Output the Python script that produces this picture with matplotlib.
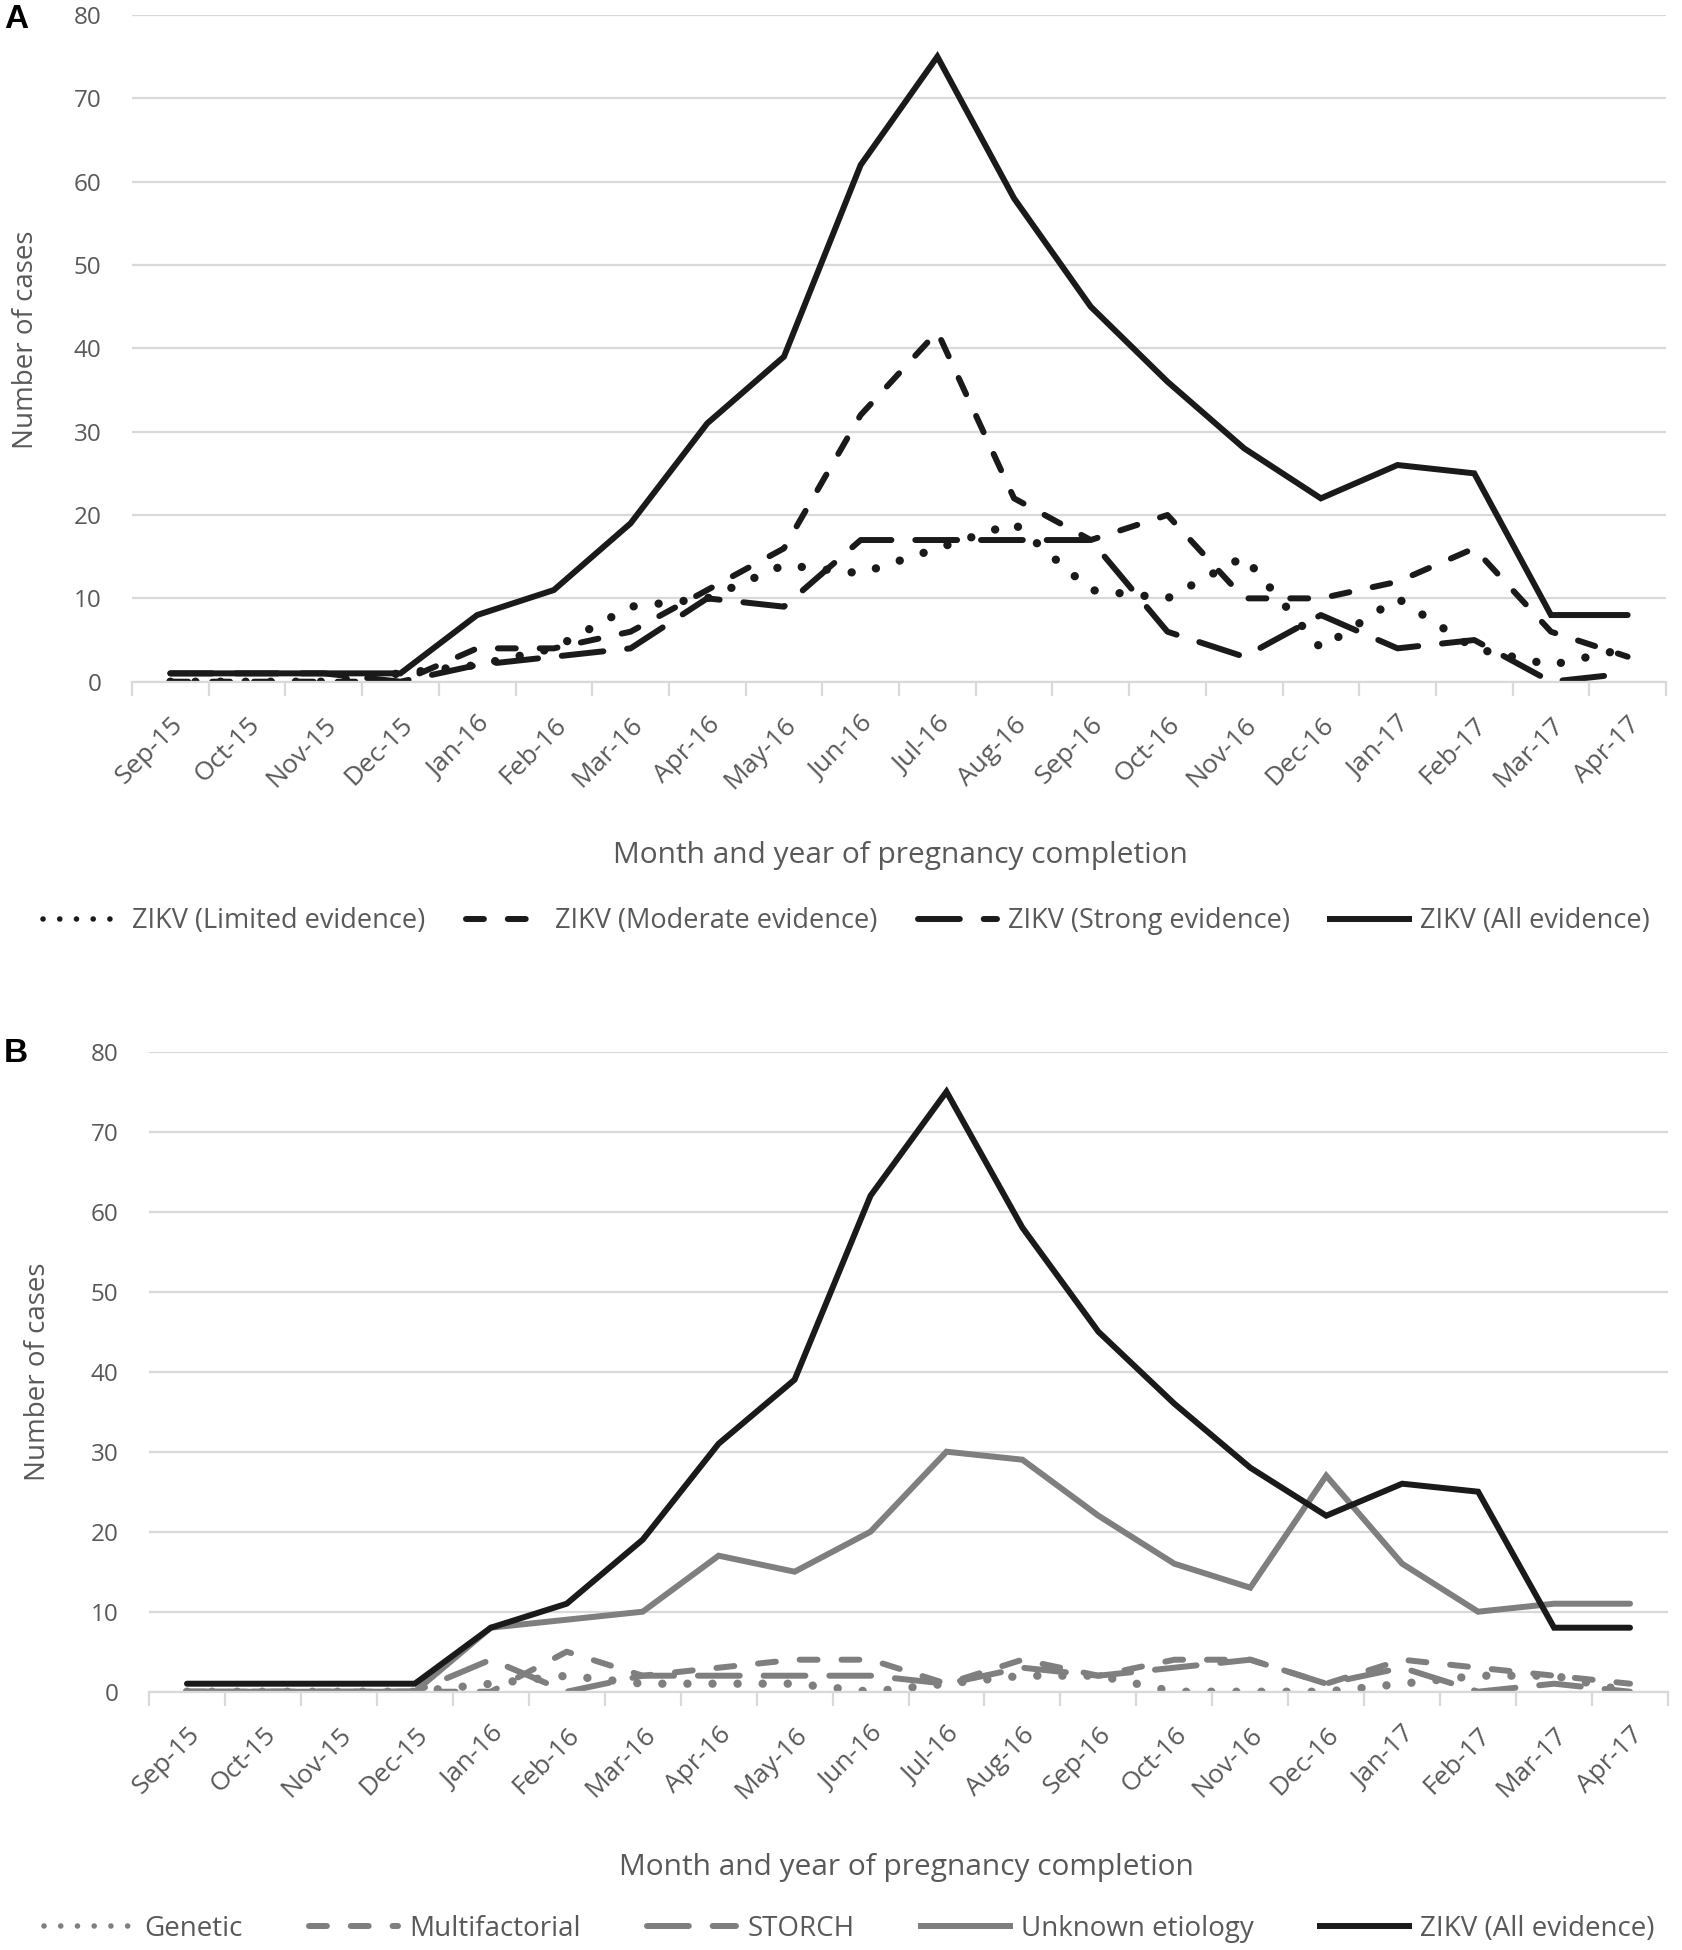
import numpy as np
import matplotlib
matplotlib.use("Agg")
import matplotlib.pyplot as plt
from matplotlib.lines import Line2D

# Monat der Schwangerschaftsbeendigung
months = ["Sep-15", "Oct-15", "Nov-15", "Dec-15", "Jan-16", "Feb-16", "Mar-16",
          "Apr-16", "May-16", "Jun-16", "Jul-16", "Aug-16", "Sep-16", "Oct-16",
          "Nov-16", "Dec-16", "Jan-17", "Feb-17", "Mar-17", "Apr-17"]

# Panel A
zikv_limited = [0, 0, 0, 1, 2, 4, 9, 10, 14, 13, 16, 19, 11, 10, 15, 4, 10, 4, 2, 4]
zikv_moderate = [0, 0, 0, 0, 4, 4, 6, 11, 16, 32, 42, 22, 17, 20, 10, 10, 12, 16, 6, 3]
zikv_strong = [1, 1, 1, 0, 2, 3, 4, 10, 9, 17, 17, 17, 17, 6, 3, 8, 4, 5, 0, 1]
zikv_all = [1, 1, 1, 1, 8, 11, 19, 31, 39, 62, 75, 58, 45, 36, 28, 22, 26, 25, 8, 8]

# Panel B
genetic = [0, 0, 0, 0, 1, 2, 1, 1, 1, 0, 1, 2, 2, 0, 0, 0, 1, 2, 2, 0]
multifactorial = [0, 0, 0, 0, 0, 5, 2, 3, 4, 4, 1, 4, 2, 4, 4, 1, 4, 3, 2, 1]
storch = [0, 0, 0, 0, 4, 0, 2, 2, 2, 2, 1, 3, 2, 3, 4, 1, 3, 0, 1, 0]
unknown = [0, 0, 0, 0, 8, 9, 10, 17, 15, 20, 30, 29, 22, 16, 13, 27, 16, 10, 11, 11]

plt.rcParams['font.family'] = ['Open Sans', 'DejaVu Sans']

BLACK = "#1a1a1a"
GREY = "#7f7f7f"
TXT = "#595959"
GRID = "#d9d9d9"
LW = 4.3
DOT_LW = 6.0
DOT = (0, (0.01, 3.0))
DASH = (0, (3, 4))
LONG = (0, (7, 4))

x = np.arange(len(months))

fig = plt.figure(figsize=(16.82, 19.5), dpi=100)
axA = fig.add_axes([132 / 1682, 1 - 681.7 / 1950, (1666 - 132) / 1682, (681.7 - 15) / 1950])
axB = fig.add_axes([149 / 1682, 1 - 1691.7 / 1950, (1668 - 149) / 1682, (1691.7 - 1051.7) / 1950])


def style(ax):
    ax.set_xlim(-0.5, len(months) - 0.5)
    ax.set_ylim(0, 80)
    ax.set_yticks(range(0, 81, 10))
    ax.yaxis.grid(True, color=GRID, lw=1.6)
    ax.set_axisbelow(True)
    for s in ["top", "right", "left"]:
        ax.spines[s].set_visible(False)
    ax.spines["bottom"].set_color(GRID)
    ax.spines["bottom"].set_linewidth(1.6)
    ax.set_xticks(x)
    ax.set_xticklabels(months, rotation=45, ha="right", rotation_mode="anchor")
    ax.set_xticks(np.arange(-0.5, len(months)), minor=True)
    ax.tick_params(axis="x", which="major", length=0, pad=22, labelsize=19, labelcolor=TXT)
    ax.tick_params(axis="x", which="minor", length=10, width=1.6, color=GRID)
    ax.tick_params(axis="y", length=0, pad=22, labelsize=17.5, labelcolor=TXT)


def draw(ax, y, color, ls):
    lw = DOT_LW if ls == DOT else LW
    ax.plot(x, y, color=color, lw=lw, linestyle=ls, dash_capstyle="round",
            solid_capstyle="round", solid_joinstyle="miter")


# Panel A
draw(axA, zikv_limited, BLACK, DOT)
draw(axA, zikv_moderate, BLACK, DASH)
draw(axA, zikv_strong, BLACK, LONG)
draw(axA, zikv_all, BLACK, "-")
style(axA)

# Panel B
draw(axB, genetic, GREY, DOT)
draw(axB, multifactorial, GREY, DASH)
draw(axB, storch, GREY, LONG)
draw(axB, unknown, GREY, "-")
draw(axB, zikv_all, BLACK, "-")
style(axB)

fig.text(16 / 1682, 1 - 20 / 1950, "A", fontsize=24, fontweight="bold", color="black",
         family="Liberation Sans", ha="center", va="center")
fig.text(16 / 1682, 1 - 1053 / 1950, "B", fontsize=24, fontweight="bold", color="black",
         family="Liberation Sans", ha="center", va="center")

fig.text(26 / 1682, 1 - 340 / 1950, "Number of cases", rotation=90, fontsize=20,
         color=TXT, ha="center", va="center")
fig.text(38 / 1682, 1 - 1372 / 1950, "Number of cases", rotation=90, fontsize=20,
         color=TXT, ha="center", va="center")
fig.text(900 / 1682, 1 - 856 / 1950, "Month and year of pregnancy completion",
         fontsize=21.5, color=TXT, ha="center", va="center")
fig.text(906 / 1682, 1 - 1867 / 1950, "Month and year of pregnancy completion",
         fontsize=21.5, color=TXT, ha="center", va="center")


def handle(color, ls):
    lw = 4.0 if ls == DOT else LW
    return Line2D([0], [0], color=color, lw=lw, linestyle=ls, dash_capstyle="round")


legA = fig.legend([handle(BLACK, DOT), handle(BLACK, DASH), handle(BLACK, LONG), handle(BLACK, "-")],
                  ["ZIKV (Limited evidence)", "ZIKV (Moderate evidence)",
                   "ZIKV (Strong evidence)", "ZIKV (All evidence)"],
                  loc="center", bbox_to_anchor=(0.503, 1 - 921 / 1950), ncol=4, frameon=False,
                  fontsize=19.5, handlelength=2.9, handletextpad=0.4, columnspacing=1.5,
                  labelcolor=TXT, borderpad=0.2)

legB = fig.legend([handle(GREY, DOT), handle(GREY, DASH), handle(GREY, LONG), handle(GREY, "-"),
                   handle(BLACK, "-")],
                  ["Genetic", "Multifactorial", "STORCH", "Unknown etiology", "ZIKV (All evidence)"],
                  loc="center", bbox_to_anchor=(0.505, 1 - 1929 / 1950), ncol=5, frameon=False,
                  fontsize=20, handlelength=3.2, handletextpad=0.4, columnspacing=2.4,
                  labelcolor=TXT)

fig.savefig("out.png", dpi=100)
